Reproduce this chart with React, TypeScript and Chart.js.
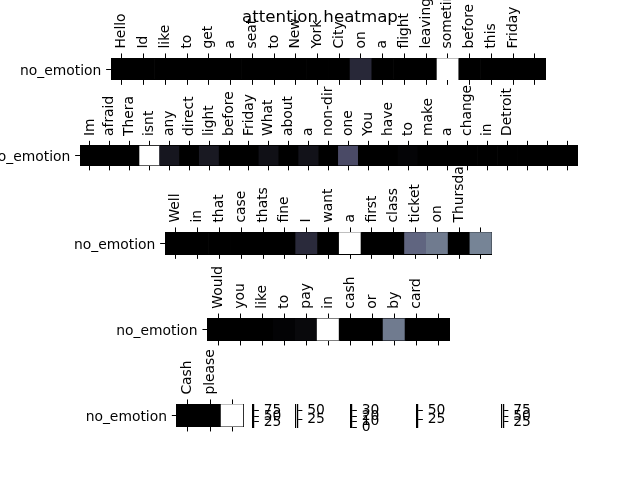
import React, { useEffect, useRef } from 'react';
import { Chart, registerables } from 'chart.js';

Chart.register(...registerables);

const FONT = 'DejaVu Sans';
const TICK_FONT = 13.89;
const TITLE_FONT = 16.67;
Chart.defaults.font.family = FONT;

// ---------------- data ----------------
const chartTitle = 'attention heatmap';
const emotionCategories = ['no_emotion'];

const words1 = ['Hello', 'Id', 'like', 'to', 'get', 'a', 'seat', 'to', 'New', 'York', 'City', 'on', 'a', 'flight', 'leaving', 'sometim', 'before', 'this', 'Friday', ''];
const attention1 = [0, 0, 0, 0, 0, 0, 0, 0, 0, 0, 0, 0.18, 0, 0, 0, 1, 0, 0, 0, 0];

const words2 = ['Im', 'afraid', 'Thera', 'isnt', 'any', 'direct', 'light', 'before', 'Friday', 'What', 'about', 'a', 'non-dir', 'one', 'You', 'have', 'to', 'make', 'a', 'change', 'in', 'Detroit', '', '', ''];
const attention2 = [0, 0, 0, 1, 0.1, 0, 0.11, 0, 0, 0.07, 0, 0.08, 0, 0.33, 0, 0, 0.02, 0, 0, 0, 0, 0, 0, 0, 0];

const words3 = ['Well', 'in', 'that', 'case', 'thats', 'fine', 'I', 'want', 'a', 'first', 'class', 'ticket', 'on', 'Thursda', ''];
const attention3 = [0, 0, 0, 0, 0, 0, 0.19, 0, 1, 0, 0, 0.43, 0.5, 0, 0.53];

const words4 = ['Would', 'you', 'like', 'to', 'pay', 'in', 'cash', 'or', 'by', 'card', ''];
const attention4 = [0, 0, 0, 0.015, 0.04, 1, 0, 0, 0.5, 0, 0];

const words5 = ['Cash', 'please', ''];
const attention5 = [0, 0, 1];

const cbTicks1 = [25, 50, 75];
const cbRange1 = [2, 98];
const cbTicks2 = [25, 50];
const cbRange2 = [3, 67];
const cbTicks3 = [0, 10, 20, 30];
const cbRange3 = [0, 40];
const cbTicks4 = [25, 50];
const cbRange4 = [3, 67];
const cbTicks5 = [25, 50, 75];
const cbRange5 = [2, 98];

// ---------------- layout ----------------
const W = 640;
const H = 480;
const rows = [
  { words: words1, values: attention1, rect: { left: 111, right: 545.7, top: 58.3, bottom: 80 } },
  { words: words2, values: attention2, rect: { left: 80, right: 577, top: 145.7, bottom: 165.5 } },
  { words: words3, values: attention3, rect: { left: 165, right: 491.7, top: 232.3, bottom: 254 } },
  { words: words4, values: attention4, rect: { left: 207.3, right: 449, top: 318.4, bottom: 340.6 } },
  { words: words5, values: attention5, rect: { left: 176.7, right: 243.3, top: 404.3, bottom: 426.6 } },
];
const colorbars = [
  { x: 254, ticks: cbTicks1, range: cbRange1 },
  { x: 297.5, ticks: cbTicks2, range: cbRange2 },
  { x: 352, ticks: cbTicks3, range: cbRange3 },
  { x: 418, ticks: cbTicks4, range: cbRange4 },
  { x: 503.5, ticks: cbTicks5, range: cbRange5 },
];
const CB_TOP = 404.5;
const CB_BOTTOM = 427.5;
const TICK_LEN = 4.86;
const TICK_PAD = 4.86;
const LABEL_SHIFT = TICK_FONT * 1.2;
const Y_LABEL_SHIFT = 2;
const TITLE_PAD_TOP = 7.7;

function bone(t: number): string {
  const r = t < 0.746032 ? (t / 0.746032) * 0.652778 : 0.652778 + ((t - 0.746032) / 0.253968) * 0.347222;
  const g = t < 0.365079
    ? (t / 0.365079) * 0.319444
    : t < 0.746032
      ? 0.319444 + ((t - 0.365079) / 0.380953) * 0.458334
      : 0.777778 + ((t - 0.746032) / 0.253968) * 0.222222;
  const b = t < 0.365079 ? (t / 0.365079) * 0.444444 : 0.444444 + ((t - 0.365079) / 0.634921) * 0.555556;
  return `rgb(${Math.round(r * 255)},${Math.round(g * 255)},${Math.round(b * 255)})`;
}

const canvasStyle: React.CSSProperties = { position: 'absolute', left: 0, top: 0, width: W, height: H };

function TitleChart() {
  const ref = useRef<HTMLCanvasElement>(null);
  useEffect(() => {
    const chart = new Chart(ref.current as HTMLCanvasElement, {
      type: 'bar',
      data: { labels: [], datasets: [] },
      options: {
        responsive: false,
        animation: false,
        events: [],
        layout: { padding: 0 },
        plugins: {
          legend: { display: false },
          tooltip: { enabled: false },
          title: {
            display: true,
            text: chartTitle,
            color: '#000',
            font: { family: FONT, size: TITLE_FONT, weight: 'normal' },
            padding: { top: TITLE_PAD_TOP, bottom: 0 },
          },
        },
        scales: { x: { display: false }, y: { display: false } },
      },
    });
    return () => chart.destroy();
  }, []);
  return <canvas ref={ref} width={W} height={H} style={canvasStyle} />;
}

function HeatRow({ words, values, rect }: any) {
  const ref = useRef<HTMLCanvasElement>(null);
  useEffect(() => {
    const font = { family: FONT, size: TICK_FONT };
    const chart = new Chart(ref.current as HTMLCanvasElement, {
      type: 'bar',
      data: {
        labels: words.map((_: string, i: number) => String(i)),
        datasets: [
          {
            data: values.map(() => [0, 1]),
            backgroundColor: values.map(bone),
            borderWidth: 0,
            barPercentage: 1,
            categoryPercentage: 1,
            xAxisID: 'x',
            yAxisID: 'y',
          } as any,
        ],
      },
      options: {
        responsive: false,
        animation: false,
        events: [],
        layout: { padding: 0 },
        plugins: { legend: { display: false }, tooltip: { enabled: false }, title: { display: false } },
        scales: {
          x: {
            type: 'category',
            position: 'bottom',
            offset: true,
            grid: { display: true, drawOnChartArea: false, offset: false, tickLength: TICK_LEN, color: '#000' },
            border: { display: true, color: '#000', width: 1 },
            ticks: { display: false },
            afterFit: (s: any) => { s.height = H - rect.bottom; },
          },
          xTop: {
            type: 'category',
            position: 'top',
            labels: words,
            offset: true,
            grid: { display: true, drawOnChartArea: false, offset: false, tickLength: TICK_LEN, color: '#000' },
            border: { display: true, color: '#000', width: 1 },
            ticks: { autoSkip: false, minRotation: 90, maxRotation: 90, padding: TICK_PAD, labelOffset: LABEL_SHIFT, font, color: '#000' },
            afterFit: (s: any) => { s.height = rect.top; },
          },
          y: { type: 'linear', min: 0, max: 1, display: false },
          yLabel: {
            type: 'category',
            position: 'left',
            labels: emotionCategories,
            offset: true,
            grid: { display: true, drawOnChartArea: false, offset: false, tickLength: TICK_LEN, color: '#000' },
            border: { display: true, color: '#000', width: 1 },
            ticks: { padding: TICK_PAD, labelOffset: Y_LABEL_SHIFT, font, color: '#000' },
            afterFit: (s: any) => { s.width = rect.left; },
          },
          yRight: {
            type: 'linear',
            position: 'right',
            grid: { display: true, drawOnChartArea: false, drawTicks: false },
            border: { display: true, color: '#000', width: 1 },
            ticks: { display: false },
            afterFit: (s: any) => { s.width = W - rect.right; },
          },
        } as any,
      },
    });
    return () => chart.destroy();
  }, []);
  return <canvas ref={ref} width={W} height={H} style={canvasStyle} />;
}

function ColorBar({ x, ticks, range }: any) {
  const ref = useRef<HTMLCanvasElement>(null);
  useEffect(() => {
    const font = { family: FONT, size: TICK_FONT };
    const chart = new Chart(ref.current as HTMLCanvasElement, {
      type: 'bar',
      data: { labels: [], datasets: [] },
      options: {
        responsive: false,
        animation: false,
        events: [],
        layout: { padding: { left: x - 1.5, right: W - x - 60, top: CB_TOP, bottom: H - CB_BOTTOM } },
        plugins: { legend: { display: false }, tooltip: { enabled: false }, title: { display: false } },
        scales: {
          x: { display: false },
          y: {
            type: 'linear',
            position: 'right',
            min: range[0],
            max: range[1],
            afterBuildTicks: (s: any) => { s.ticks = ticks.map((v: number) => ({ value: v })); },
            grid: { display: true, drawOnChartArea: false, tickLength: TICK_LEN, color: '#000' },
            border: { display: true, color: '#000', width: 1.2 },
            ticks: { autoSkip: false, padding: TICK_PAD, font, color: '#000' },
            afterFit: (s: any) => { s.width = 60; },
          },
          yl: {
            type: 'linear',
            position: 'left',
            grid: { display: true, drawOnChartArea: false, drawTicks: false },
            border: { display: true, color: '#000', width: 1.2 },
            ticks: { display: false },
            afterFit: (s: any) => { s.width = 0; },
          },
        } as any,
      },
    });
    return () => chart.destroy();
  }, []);
  return <canvas ref={ref} width={W} height={H} style={canvasStyle} />;
}

export default function App() {
  return (
    <div style={{ position: 'absolute', left: 0, top: 0, width: W, height: H, background: '#fff' }}>
      {rows.map((r, i) => (
        <HeatRow key={'r' + i} {...r} />
      ))}
      {colorbars.map((c, i) => (
        <ColorBar key={'c' + i} {...c} />
      ))}
      <TitleChart />
    </div>
  );
}
